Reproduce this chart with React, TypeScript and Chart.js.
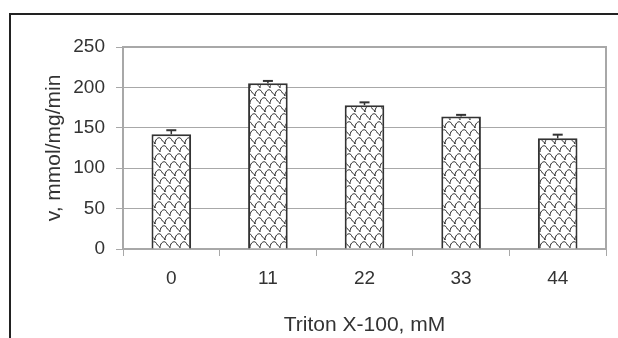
import React, { useEffect, useRef } from "react";
import { Chart, registerables } from "chart.js";

Chart.register(...registerables);

const categories = ["0", "11", "22", "33", "44"];
const values = [142, 205, 178, 164, 137];
const errors = [5, 3, 3.5, 2, 4.5];
const yTicks = [0, 50, 100, 150, 200, 250];
const xTitle = "Triton X-100, mM";
const yTitle = "v, mmol/mg/min";

const FONT = "'Liberation Sans', Arial, sans-serif";

function makePattern(): CanvasPattern | string {
  const w = 10;
  const h = 16;
  const c = document.createElement("canvas");
  c.width = w;
  c.height = h;
  const g = c.getContext("2d");
  if (!g) return "#fff";
  g.fillStyle = "#fff";
  g.fillRect(0, 0, w, h);
  g.strokeStyle = "#222";
  g.lineWidth = 1;
  const wave = (dx: number, dy: number) => {
    g.beginPath();
    g.moveTo(dx + 0, dy + 8);
    g.bezierCurveTo(dx + 0, dy + 2, dx + 5, dy + 0, dx + 6.5, dy + 3.5);
    g.bezierCurveTo(dx + 7.5, dy + 6.5, dx + 10, dy + 5.5, dx + 10, dy + 8);
    g.stroke();
  };
  wave(0, 0);
  wave(5, 8);
  wave(-5, 8);
  wave(0, -16);
  wave(5, -8);
  wave(-5, -8);
  const p = g.createPattern(c, "repeat");
  return p || "#fff";
}

const framePlugin = {
  id: "frame",
  beforeDraw(chart: any) {
    const ctx = chart.ctx;
    ctx.save();
    ctx.fillStyle = "#fff";
    ctx.fillRect(0, 0, chart.width, chart.height);
    ctx.strokeStyle = "#222";
    ctx.lineWidth = 2;
    ctx.beginPath();
    ctx.moveTo(chart.width, 14);
    ctx.lineTo(10, 14);
    ctx.lineTo(10, chart.height);
    ctx.stroke();
    ctx.restore();
  },
  afterDatasetsDraw(chart: any) {
    const ctx = chart.ctx;
    const { left, right, top, bottom } = chart.chartArea;
    ctx.save();
    ctx.strokeStyle = "#a8a8a8";
    ctx.lineWidth = 2;
    ctx.beginPath();
    ctx.moveTo(left, top);
    ctx.lineTo(right, top);
    ctx.lineTo(right, bottom);
    ctx.stroke();
    const meta = chart.getDatasetMeta(0);
    const ys = chart.scales.y;
    ctx.strokeStyle = "#333";
    meta.data.forEach((bar: any, i: number) => {
      const x = bar.x;
      const y0 = ys.getPixelForValue(values[i]);
      const y1 = ys.getPixelForValue(values[i] + errors[i]);
      ctx.lineWidth = 1.5;
      ctx.beginPath();
      ctx.moveTo(x, y0);
      ctx.lineTo(x, y1);
      ctx.stroke();
      ctx.lineWidth = 2;
      ctx.beginPath();
      ctx.moveTo(x - 5, y1);
      ctx.lineTo(x + 5, y1);
      ctx.stroke();
    });
    ctx.restore();
  },
};

export default function App() {
  const ref = useRef<HTMLCanvasElement>(null);
  useEffect(() => {
    if (!ref.current) return;
    const pattern = makePattern();
    const chart = new Chart(ref.current, {
      type: "bar",
      data: {
        labels: categories,
        datasets: [
          {
            data: values,
            backgroundColor: pattern as any,
            borderColor: "#333",
            borderWidth: 2,
            barPercentage: 0.41,
            categoryPercentage: 1,
          },
        ],
      },
      options: {
        responsive: false,
        animation: false,
        layout: { padding: { top: 47, right: 12, bottom: 0, left: 0 } },
        plugins: { legend: { display: false }, tooltip: { enabled: false } },
        scales: {
          x: {
            grid: {
              display: true,
              drawOnChartArea: false,
              drawTicks: true,
              tickLength: 7,
              color: "#a8a8a8",
              offset: true,
            },
            border: { color: "#a8a8a8", width: 2 },
            ticks: {
              color: "#333",
              font: { family: FONT, size: 19 },
              padding: 11,
            },
            title: {
              display: true,
              text: xTitle,
              color: "#333",
              font: { family: FONT, size: 21 },
              padding: { top: 2, bottom: 0 },
            },
            afterFit(scale: any) {
              scale.height = 89;
            },
          },
          y: {
            min: 0,
            max: 250,
            afterBuildTicks(scale: any) {
              scale.ticks = yTicks.map((v) => ({ value: v }));
            },
            grid: {
              color: "#a8a8a8",
              lineWidth: 1,
              drawTicks: true,
              tickLength: 7,
            },
            border: { color: "#a8a8a8", width: 2 },
            ticks: {
              color: "#333",
              font: { family: FONT, size: 19 },
              padding: 11,
            },
            title: {
              display: true,
              text: yTitle,
              color: "#333",
              font: { family: FONT, size: 21 },
              padding: { top: 42, bottom: 0 },
            },
            afterFit(scale: any) {
              scale.width = 123;
            },
          },
        },
      },
      plugins: [framePlugin],
    });
    return () => chart.destroy();
  }, []);
  return (
    <div style={{ position: "absolute", left: 0, top: 0, width: 618, height: 338 }}>
      <canvas ref={ref} width={618} height={338} style={{ display: "block" }} />
    </div>
  );
}
